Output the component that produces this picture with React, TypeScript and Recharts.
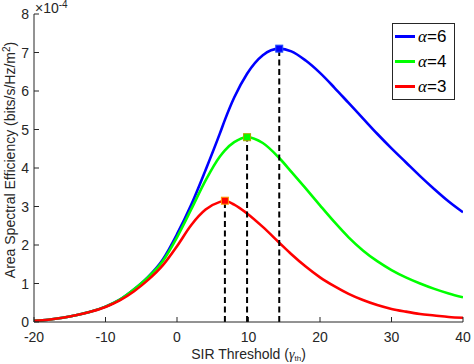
import React from "react";
import {
  LineChart,
  Line,
  XAxis,
  YAxis,
  ReferenceLine,
  ReferenceDot,
  Legend,
} from "recharts";

// SIR threshold (dB) sample points
const sirThreshold = [
  -20, -18, -16, -14, -12, -10, -8, -6, -4, -2, 0, 2, 4, 6, 6.7, 8, 9.8, 12,
  14.3, 16, 18, 20, 22, 24, 26, 28, 30, 32, 34, 36, 38, 40,
];

// Area spectral efficiency, in units of 1e-4 bits/s/Hz/m^2
const aseAlpha6 = [
  0.03, 0.06, 0.11, 0.18, 0.27, 0.4, 0.58, 0.85, 1.18, 1.62, 2.28, 3.05, 3.95,
  4.9, 5.25, 5.83, 6.45, 6.93, 7.1, 7.03, 6.79, 6.47, 6.09, 5.69, 5.29, 4.89,
  4.51, 4.15, 3.79, 3.45, 3.13, 2.85,
];
const aseAlpha4 = [
  0.03, 0.06, 0.11, 0.18, 0.27, 0.4, 0.58, 0.85, 1.17, 1.58, 2.2, 2.93, 3.68,
  4.3, 4.46, 4.67, 4.8, 4.65, 4.26, 3.9, 3.47, 3.03, 2.6, 2.2, 1.86, 1.58, 1.35,
  1.16, 1.0, 0.86, 0.74, 0.64,
];
const aseAlpha3 = [
  0.03, 0.06, 0.11, 0.18, 0.27, 0.39, 0.56, 0.8, 1.1, 1.47, 1.97, 2.52, 2.92,
  3.12, 3.15, 3.05, 2.82, 2.47, 2.06, 1.76, 1.44, 1.16, 0.93, 0.73, 0.57, 0.44,
  0.34, 0.27, 0.21, 0.17, 0.13, 0.11,
];

const xTicks = [-20, -10, 0, 10, 20, 30, 40];
const yTicks = [0, 1, 2, 3, 4, 5, 6, 7, 8];

const series = [
  { key: "a6", name: "6", values: aseAlpha6, color: "#0000ff", edge: "#1f4fff" },
  { key: "a4", name: "4", values: aseAlpha4, color: "#00ff00", edge: "#a8a800" },
  { key: "a3", name: "3", values: aseAlpha3, color: "#ff0000", edge: "#ff9a00" },
];

const data = sirThreshold.map((x, i) => ({
  x,
  a6: aseAlpha6[i],
  a4: aseAlpha4[i],
  a3: aseAlpha3[i],
}));

// optimum threshold of each curve
const peaks = series.map((s) => {
  let best = 0;
  s.values.forEach((v, i) => {
    if (v > s.values[best]) best = i;
  });
  return { ...s, x: sirThreshold[best], y: s.values[best] };
});

const AX = "#262626";
const FONT = "'Liberation Sans', Arial, Helvetica, sans-serif";
const SERIF = "'Liberation Serif', 'DejaVu Serif', serif";

const BottomTick = (p: any) => (
  <g>
    <line x1={p.x} x2={p.x} y1={p.y} y2={p.y - 5} stroke={AX} strokeWidth={1} />
    <text x={p.x} y={p.y + 20} textAnchor="middle" fill={AX} fontSize={14} fontFamily={FONT}>
      {p.payload.value}
    </text>
  </g>
);

const LeftTick = (p: any) => (
  <g>
    <line x1={p.x} x2={p.x + 5} y1={p.y} y2={p.y} stroke={AX} strokeWidth={1} />
    <text x={p.x - 5} y={p.y + 5} textAnchor="end" fill={AX} fontSize={14} fontFamily={FONT}>
      {p.payload.value}
    </text>
  </g>
);

const TopTick = (p: any) => (
  <line x1={p.x} x2={p.x} y1={p.y} y2={p.y + 5} stroke={AX} strokeWidth={1} />
);

const RightTick = (p: any) => (
  <line x1={p.x} x2={p.x - 5} y1={p.y} y2={p.y} stroke={AX} strokeWidth={1} />
);

const PeakMarker = (color: string, edge: string) => (p: any) => (
  <rect
    x={p.cx - 3.5}
    y={p.cy - 3.5}
    width={7}
    height={7}
    fill={color}
    stroke={edge}
    strokeWidth={1}
  />
);

const YLabel = (p: any) => {
  const vb = p.viewBox || { x: 0, y: 14, width: 34, height: 308 };
  const cx = vb.x + 15;
  const cy = vb.y + vb.height / 2 - 8;
  return (
    <g>
      <text
        x={cx}
        y={cy}
        transform={`rotate(-90, ${cx}, ${cy})`}
        textAnchor="middle"
        fill={AX}
        fontSize={14}
        fontFamily={FONT}
      >
        Area Spectral Efficiency (bits/s/Hz/m
        <tspan fontSize={10} dy={-5}>2</tspan>
        <tspan dy={5}>)</tspan>
      </text>
      <text x={vb.x + vb.width + 1} y={vb.y - 1} fill={AX} fontSize={14} fontFamily={FONT}>
        ×10
        <tspan fontSize={10} dy={-5}>-4</tspan>
      </text>
    </g>
  );
};

const XLabel = (p: any) => {
  const vb = p.viewBox || { x: 34, y: 322, width: 429, height: 42 };
  return (
    <text
      x={vb.x + vb.width / 2}
      y={vb.y + 37}
      textAnchor="middle"
      fill={AX}
      fontSize={14}
      fontFamily={FONT}
    >
      SIR Threshold (
      <tspan fontFamily={SERIF} fontStyle="italic">
        γ
      </tspan>
      <tspan fontSize={8} dy={2}>th</tspan>
      <tspan dy={-2}>)</tspan>
    </text>
  );
};

const LegendBox = (props: any) => {
  const payload = [...(props.payload || [])];
  const order = series.map((s) => s.name);
  payload.sort((a: any, b: any) => order.indexOf(a.value) - order.indexOf(b.value));
  return (
    <div
      style={{
        border: `1px solid ${AX}`,
        background: "#fff",
        width: 61,
        boxSizing: "content-box",
      }}
    >
      {payload.map((item: any) => (
        <div
          key={item.value}
          style={{ display: "flex", alignItems: "center", height: 25 }}
        >
          <div
            style={{
              width: 20,
              height: 3,
              background: item.color,
              marginLeft: 2,
              marginRight: 3,
            }}
          />
          <span style={{ fontSize: 17, color: "#000", fontFamily: FONT, lineHeight: "25px" }}>
            <span style={{ fontFamily: SERIF, fontStyle: "italic" }}>α</span>={item.value}
          </span>
        </div>
      ))}
    </div>
  );
};

export default function App() {
  return (
    <div style={{ position: "absolute", left: 0, top: 0, background: "#fff" }}>
      <LineChart
        width={474}
        height={364}
        data={data}
        margin={{ top: 14, right: 11, left: 0, bottom: 0 }}
      >
        <XAxis
          dataKey="x"
          type="number"
          domain={[-20, 40]}
          ticks={xTicks}
          allowDataOverflow
          height={42}
          tickSize={0}
          tickMargin={0}
          tickLine={false}
          axisLine={{ stroke: AX }}
          tick={BottomTick}
          interval={0}
          label={{ content: XLabel }}
        />
        <XAxis
          xAxisId="top"
          orientation="top"
          type="number"
          domain={[-20, 40]}
          ticks={xTicks}
          allowDataOverflow
          height={0}
          tickSize={0}
          tickMargin={0}
          tickLine={false}
          axisLine={{ stroke: AX }}
          tick={TopTick}
          interval={0}
        />
        <YAxis
          type="number"
          domain={[0, 8]}
          ticks={yTicks}
          allowDataOverflow
          width={34}
          tickSize={0}
          tickMargin={0}
          tickLine={false}
          axisLine={{ stroke: AX }}
          tick={LeftTick}
          interval={0}
          label={{ content: YLabel }}
        />
        <YAxis
          yAxisId="right"
          orientation="right"
          type="number"
          domain={[0, 8]}
          ticks={yTicks}
          allowDataOverflow
          width={0}
          tickSize={0}
          tickMargin={0}
          tickLine={false}
          axisLine={{ stroke: AX }}
          tick={RightTick}
          interval={0}
        />
        {series.map((s) => (
          <Line
            key={s.key}
            dataKey={s.key}
            name={s.name}
            type="monotone"
            stroke={s.color}
            strokeWidth={2.6}
            dot={false}
            activeDot={false}
            isAnimationActive={false}
          />
        ))}
        {peaks.map((p) => (
          <ReferenceLine
            key={`v-${p.key}`}
            segment={[
              { x: p.x, y: 0 },
              { x: p.x, y: p.y },
            ]}
            stroke="#000"
            strokeWidth={2}
            strokeDasharray="6 3.5"
          />
        ))}
        {peaks.map((p) => (
          <ReferenceDot
            key={`d-${p.key}`}
            x={p.x}
            y={p.y}
            r={4}
            shape={PeakMarker(p.color, p.edge)}
          />
        ))}
        <Legend
          layout="vertical"
          align="center"
          verticalAlign="middle"
          content={LegendBox}
          wrapperStyle={{ left: 392, top: 23, width: 63, height: 77 }}
        />
      </LineChart>
    </div>
  );
}
